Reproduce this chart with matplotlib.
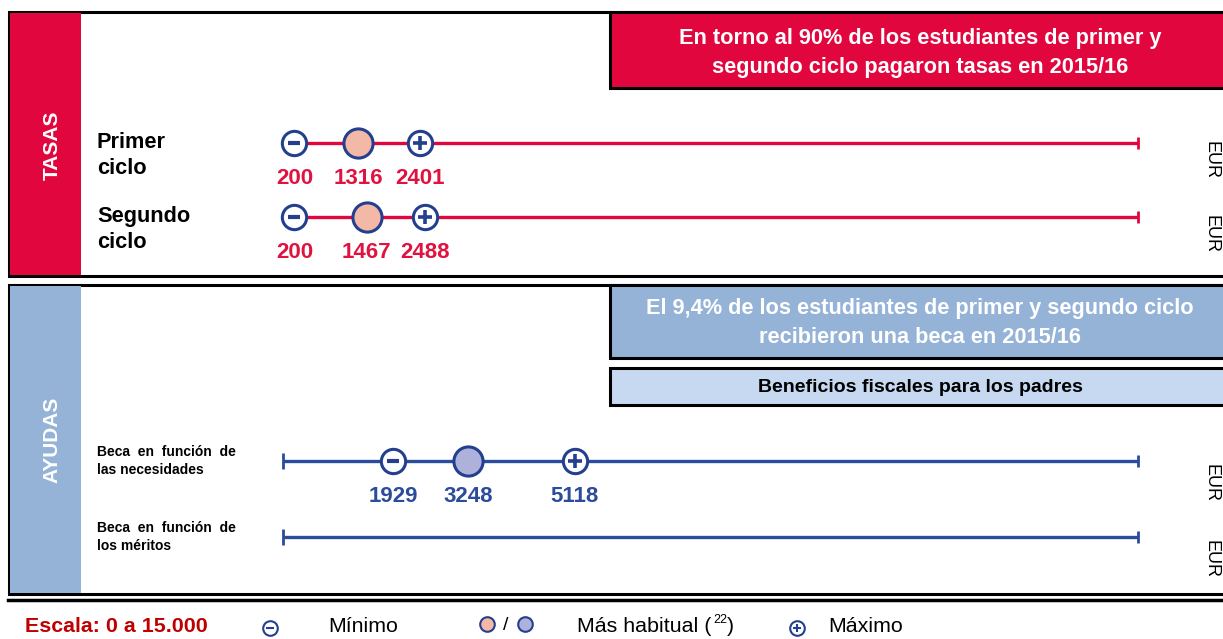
import matplotlib
matplotlib.use("Agg")
import matplotlib.pyplot as plt
from matplotlib.patches import Rectangle
from matplotlib.lines import Line2D
from matplotlib import font_manager
import matplotlib.transforms as mtrans

# ---------------- data ----------------
scale_max = 15000
tasas_rows = ["Primer\nciclo", "Segundo\nciclo"]
tasas_min = [200, 200]
tasas_mode = [1316, 1467]
tasas_max = [2401, 2488]

ayudas_rows = ["Beca  en  función  de\nlas necesidades", "Beca  en  función  de\nlos méritos"]
ayudas_min = [1929, None]
ayudas_mode = [3248, None]
ayudas_max = [5118, None]

tasas_title = "En torno al 90% de los estudiantes de primer y\nsegundo ciclo pagaron tasas en 2015/16"
ayudas_title = "El 9,4% de los estudiantes de primer y segundo ciclo\nrecibieron una beca en 2015/16"
fiscal_title = "Beneficios fiscales para los padres"
unit = "EUR"

# ---------------- style ----------------
names = {f.name for f in font_manager.fontManager.ttflist}
NARROW = ["Liberation Sans Narrow", "Liberation Sans"] if "Liberation Sans Narrow" in names else ["Liberation Sans"]
ARIAL = ["Liberation Sans", "DejaVu Sans"]

RED = "#e2063f"
NUM_RED = "#e0123f"
NAVY = "#233f8e"
LINE_BLUE = "#2b4b9b"
PINK = "#f4b8a6"
LAVENDER = "#aeb1da"
SIDE_BLUE = "#95b3d7"
LIGHT_BLUE = "#c6d9f1"

W, H = 1223, 639
fig = plt.figure(figsize=(W / 100, H / 100), dpi=100)


def rect(x0, y0, x1, y1, fc, ec="none", lw=0, z=1):
    fig.patches.append(Rectangle((x0 / W, 1 - y1 / H), (x1 - x0) / W, (y1 - y0) / H,
                                 transform=fig.transFigure, facecolor=fc, edgecolor=ec,
                                 linewidth=lw, zorder=z))


def ftext(x, y, s, **kw):
    fig.text(x / W, 1 - y / H, s, **kw)


# panels
rect(9, 12, 1226, 276, "white", "black", 2.2, z=1)
rect(10, 13, 81, 275, RED, z=2)
rect(610, 12, 1226, 88, RED, "black", 2.2, z=3)
ftext(52, 145, "TASAS", rotation=90, ha="center", va="center", color="white",
      fontsize=15, fontweight="bold", family=ARIAL, zorder=5)
ftext(920, 53, tasas_title, ha="center", va="center", color="white", fontsize=15.7,
      fontweight="bold", family=NARROW, linespacing=1.5, zorder=5)

rect(9, 285, 1226, 594, "white", "black", 2.2, z=1)
rect(10, 286, 81, 593, SIDE_BLUE, z=2)
rect(610, 285, 1226, 358, SIDE_BLUE, "black", 2.2, z=3)
rect(610, 368, 1226, 405, LIGHT_BLUE, "black", 2.2, z=3)
ftext(52, 440, "AYUDAS", rotation=90, ha="center", va="center", color="white",
      fontsize=15, fontweight="bold", family=ARIAL, zorder=5)
ftext(920, 323, ayudas_title, ha="center", va="center", color="white", fontsize=15.7,
      fontweight="bold", family=NARROW, linespacing=1.5, zorder=5)
ftext(920, 387, fiscal_title, ha="center", va="center", color="black", fontsize=14,
      fontweight="bold", family=NARROW, zorder=5)

# bottom rule
fig.lines.append(Line2D([8 / W, 1.0], [1 - 600 / H, 1 - 600 / H], transform=fig.transFigure,
                        color="black", lw=2.5))

X0, X1 = 283, 1138


def make_axes(y_first, y_second):
    gap = y_second - y_first
    top = y_first - gap / 2
    bot = y_second + gap / 2
    ax = fig.add_axes([X0 / W, 1 - bot / H, (X1 - X0) / W, (bot - top) / H])
    ax.set_xlim(0, scale_max)
    ax.set_ylim(1.5, -0.5)
    ax.axis("off")
    ax.patch.set_alpha(0)
    ax.set_zorder(6)
    return ax


def circ_marks(ax, y, vmin, vmode, vmax, fill, numcolor, modesize=21):
    ax.plot([vmin], [y], marker="o", ms=17.5, mfc="white", mec=NAVY, mew=2.2, zorder=5, clip_on=False)
    ax.plot([vmin], [y], marker="_", ms=9, mec=NAVY, mew=3, zorder=6, clip_on=False)
    ax.plot([vmax], [y], marker="o", ms=17.5, mfc="white", mec=NAVY, mew=2.2, zorder=5, clip_on=False)
    ax.plot([vmax], [y], marker="+", ms=10, mec=NAVY, mew=2.6, zorder=7, clip_on=False)
    ax.plot([vmode], [y], marker="o", ms=modesize, mfc=fill, mec=NAVY, mew=2.2, zorder=5, clip_on=False)
    for v in (vmin, vmode, vmax):
        ax.annotate(str(v), (v, y), xytext=(0, -35), textcoords="offset pixels",
                    ha="center", va="center", color=numcolor, fontsize=16,
                    fontweight="bold", family=NARROW, annotation_clip=False)


# ---- TASAS ----
ax1 = make_axes(143, 217)
tr1 = mtrans.blended_transform_factory(fig.transFigure, ax1.transData)
for i, lab in enumerate(tasas_rows):
    ax1.plot([tasas_min[i], scale_max], [i, i], color=RED, lw=2.4, zorder=2, solid_capstyle="butt")
    ax1.plot([scale_max], [i], marker="|", ms=9, mew=2, color=RED, zorder=2, clip_on=False)
    circ_marks(ax1, i, tasas_min[i], tasas_mode[i], tasas_max[i], PINK, NUM_RED)
    ax1.text(97 / W, i + 0.17, lab, transform=tr1, ha="left", va="center", fontsize=15.7,
             fontweight="bold", family=NARROW, linespacing=1.35)
    ax1.annotate(unit, (scale_max, i), xytext=(73, 2), textcoords="offset pixels", rotation=270,
                 ha="center", va="top", fontsize=13, family=ARIAL, annotation_clip=False)

# ---- AYUDAS ----
ax2 = make_axes(461, 537)
tr2 = mtrans.blended_transform_factory(fig.transFigure, ax2.transData)
for i, lab in enumerate(ayudas_rows):
    ax2.plot([0, scale_max], [i, i], color=LINE_BLUE, lw=2.4, zorder=2, solid_capstyle="butt")
    ax2.plot([0], [i], ls="none", marker="|", ms=11, mew=2, color=LINE_BLUE, zorder=2, clip_on=False)
    ax2.plot([scale_max], [i], ls="none", marker="|", ms=9, mew=2, color=LINE_BLUE, zorder=2,
             clip_on=False)
    if ayudas_min[i] is not None:
        circ_marks(ax2, i, ayudas_min[i], ayudas_mode[i], ayudas_max[i], LAVENDER, LINE_BLUE)
    ax2.text(97 / W, i, lab, transform=tr2, ha="left", va="center", fontsize=10,
             fontweight="bold", family=NARROW, linespacing=1.35)
    ax2.annotate(unit, (scale_max, i), xytext=(73, -3), textcoords="offset pixels", rotation=270,
                 ha="center", va="top", fontsize=13, family=ARIAL, annotation_clip=False)

# ---- legend ----
ly = 627
LFS = 15.4
ftext(25, ly, "Escala: 0 a 15.000", ha="left", va="center", color="#c00000", fontsize=LFS,
      fontweight="bold", family=NARROW)
legend_marks = [
    (270, ly + 1, "white", "_"),
    (487, ly - 3, PINK, None),
    (525, ly - 3, LAVENDER, None),
    (797, ly + 1, "white", "+"),
]
for x, y, fc, sym in legend_marks:
    fig.lines.append(Line2D([x / W], [1 - y / H], transform=fig.transFigure, marker="o", ms=10.5,
                            mfc=fc, mec=NAVY, mew=1.5, ls="none"))
    if sym:
        fig.lines.append(Line2D([x / W], [1 - y / H], transform=fig.transFigure, marker=sym, ms=6,
                                mec=NAVY, mew=1.5, ls="none"))
ftext(328, ly, "Mínimo", ha="left", va="center", fontsize=LFS, family=NARROW)
ftext(506, ly - 1, "/", ha="center", va="center", fontsize=14, family=NARROW)
ftext(577, ly, "Más habitual (", ha="left", va="center", fontsize=LFS, family=NARROW)
ftext(713, ly - 7, "22", ha="left", va="center", fontsize=9, family=NARROW)
ftext(727, ly, ")", ha="left", va="center", fontsize=LFS, family=NARROW)
ftext(828, ly, "Máximo", ha="left", va="center", fontsize=LFS, family=NARROW)

fig.savefig("out.png", dpi=100)
